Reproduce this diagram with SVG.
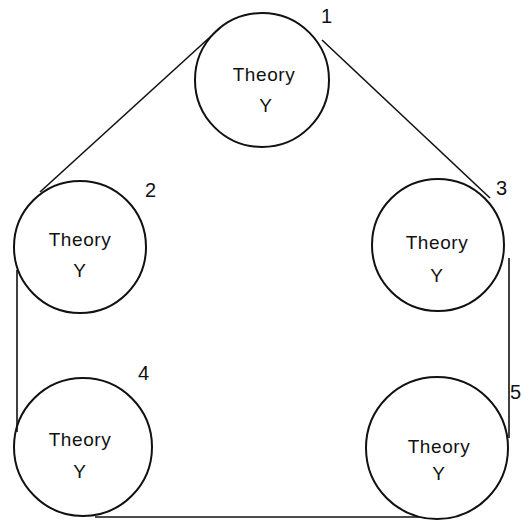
<svg xmlns="http://www.w3.org/2000/svg" width="522" height="527" viewBox="0 0 522 527">
<style>
.c{fill:none;stroke:#111;stroke-width:2}
.l{fill:none;stroke:#111;stroke-width:1.6}
.t{font-family:"Liberation Sans",Arial,sans-serif;font-size:19px;letter-spacing:0.6px;fill:#111;text-anchor:middle}
.n{font-family:"Liberation Sans",Arial,sans-serif;font-size:20px;fill:#111}
</style>
<rect width="522" height="527" fill="#fff"/>
<g id="connectors">
<line class="l" x1="40" y1="192" x2="220" y2="28"/>
<line class="l" x1="322" y1="40" x2="490" y2="198"/>
<line class="l" x1="17" y1="270" x2="17" y2="432"/>
<line class="l" x1="95" y1="517" x2="420" y2="517"/>
<line class="l" x1="509" y1="258" x2="509" y2="438"/>
</g>
<g id="node1">
<circle class="c" cx="262" cy="80" r="67"/>
<text class="t" x="264" y="81">Theory</text>
<text class="t" x="266" y="112">Y</text>
<text class="n" x="321" y="23">1</text>
</g>
<g id="node2">
<circle class="c" cx="80" cy="247" r="66"/>
<text class="t" x="80" y="246">Theory</text>
<text class="t" x="80" y="277">Y</text>
<text class="n" x="145" y="197">2</text>
</g>
<g id="node3">
<circle class="c" cx="438" cy="245" r="66"/>
<text class="t" x="437" y="249">Theory</text>
<text class="t" x="437" y="282">Y</text>
<text class="n" x="496" y="195">3</text>
</g>
<g id="node4">
<circle class="c" cx="83" cy="447" r="69"/>
<text class="t" x="80" y="446">Theory</text>
<text class="t" x="80" y="478">Y</text>
<text class="n" x="138" y="380">4</text>
</g>
<g id="node5">
<circle class="c" cx="437" cy="448" r="71"/>
<text class="t" x="439" y="453">Theory</text>
<text class="t" x="439" y="480">Y</text>
<text class="n" x="510" y="399">5</text>
</g>
</svg>
